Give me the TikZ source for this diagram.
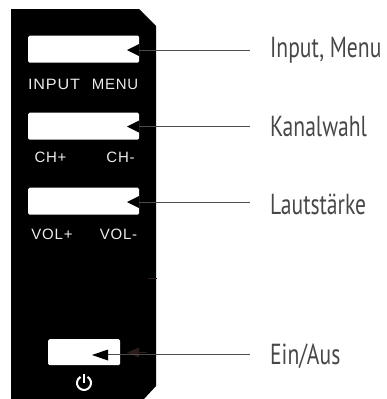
\documentclass[tikz,border=0pt]{standalone}
\usepackage{fontspec}
\setmainfont{Liberation Sans}
\newfontfamily\calloutfont{PT Sans}
\newfontfamily\panelfont[LetterSpace=5]{Liberation Sans}
\definecolor{faint}{HTML}{2A1C18}
\tikzset{
 x=1pt,y=-1pt,
 btn/.style={fill=white,rounded corners=1.5pt,draw=none,inner sep=0pt,anchor=north west},
 panellabel/.style={text=white!92!black,font=\panelfont\fontsize{15}{17}\selectfont,inner sep=0pt,anchor=center},
 callout/.style={text=black!72,font=\calloutfont\fontsize{29}{32}\selectfont,inner sep=0pt,anchor=west,xscale=0.745},
 lead/.style={draw=black!70,line width=0.9pt},
 tip/.style={fill=black,draw=none},
}
\begin{document}
\begin{tikzpicture}
\useasboundingbox (0,0) rectangle (386,399);
\fill[black] (11,9) -- (139,9) -- (156,26) -- (156,386) -- (144,399) -- (11,399) -- cycle;
\node[btn,minimum width=111pt,minimum height=27pt] (b1) at (28,35.5) {};
\node[btn,minimum width=111pt,minimum height=27pt] (b2) at (28,112.5) {};
\node[btn,minimum width=111pt,minimum height=27pt] (b3) at (28,187.5) {};
\node[btn,minimum width=72pt,minimum height=26pt] (b4) at (48,339) {};
\node[panellabel,xscale=1.08] (l1) at (54,84) {INPUT};
\node[panellabel] (l2) at (115,84) {MENU};
\node[panellabel] (l3) at (50.5,157.5) {CH+};
\node[panellabel] (l4) at (120.5,157.5) {CH-};
\node[panellabel] (l5) at (52,234) {VOL+};
\node[panellabel] (l6) at (118.5,234) {VOL-};
% power symbol
\draw[white,line width=2pt] (87.5,376.9) arc[start angle=60,end angle=-240,radius=7pt];
\draw[white,line width=2pt] (84,374) -- (84,383);
% faint marks on the panel
\fill[faint] (127,352.5) -- (139,347.5) -- (139,357.5) -- cycle;
\draw[faint,line width=0.8pt] (139,352.5) -- (147,352.5);
\draw[faint,line width=0.6pt] (148,278) -- (157,278);
\node[callout] (t1) at (270,50) {Input, Menu};
\node[callout] (t2) at (270,127) {Kanalwahl};
\node[callout] (t3) at (270,204) {Lautstärke};
\node[callout] (t4) at (270,356) {Ein/Aus};
\coordinate (e1) at (250,50);
\coordinate (e2) at (250,126.5);
\coordinate (e3) at (250,202);
\coordinate (e4) at (250,354.5);
\draw[lead] (139,50) -- (e1);
\draw[lead] (139,126.5) -- (e2);
\draw[lead] (139,202) -- (e3);
\draw[lead] (108,354.5) -- (e4);
\fill[tip] (127,50) -- (139,44) -- (139,56) -- cycle;
\fill[tip] (127,126.5) -- (139,120.5) -- (139,132.5) -- cycle;
\fill[tip] (127,202) -- (139,196) -- (139,208) -- cycle;
\fill[tip] (92,355) -- (108,349.5) -- (108,360.5) -- cycle;
\end{tikzpicture}
\end{document}
